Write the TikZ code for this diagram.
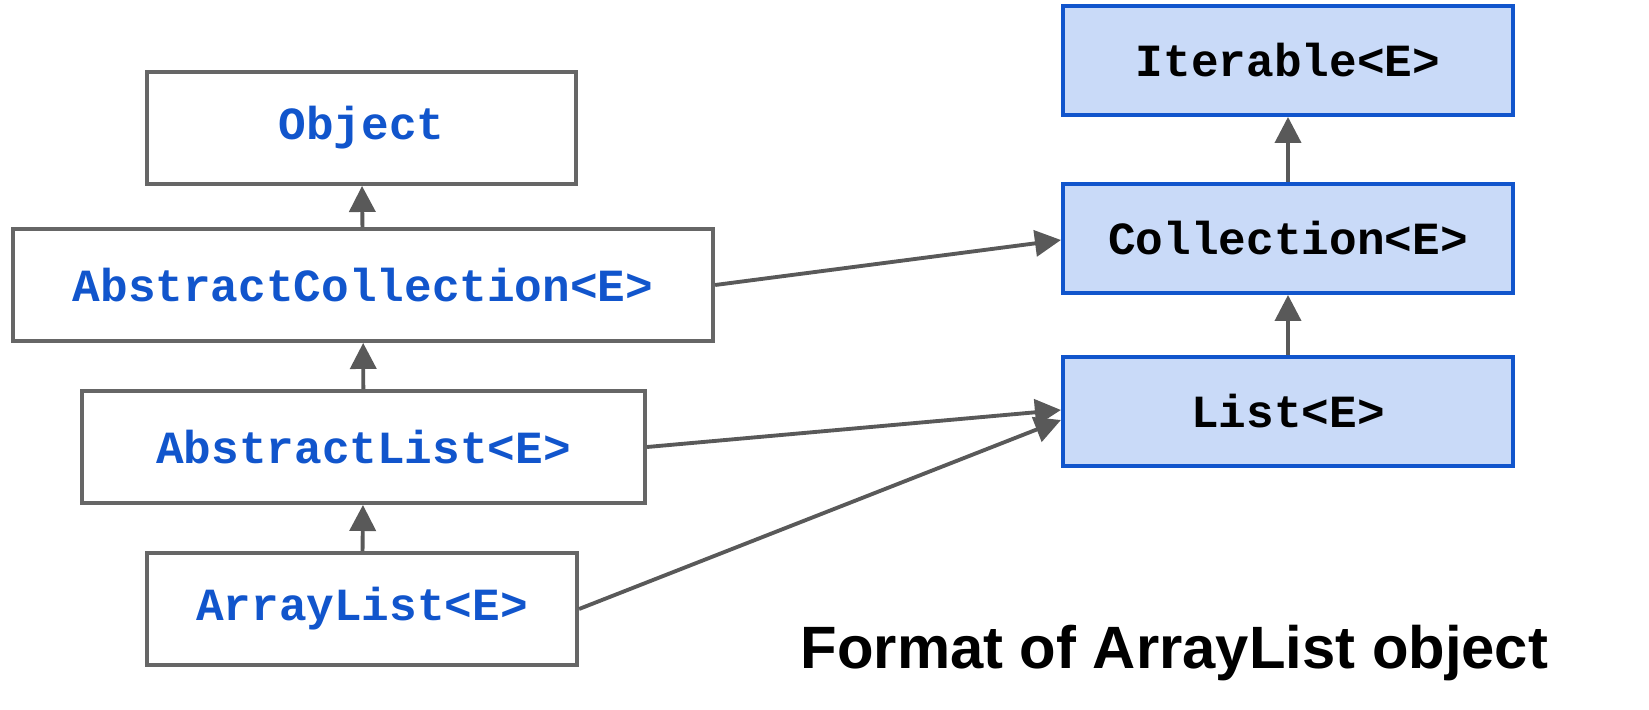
\documentclass[tikz,border=0pt]{standalone}
\usepackage{fontspec}
\setmainfont{Liberation Sans}
\setmonofont{Liberation Mono}
\usetikzlibrary{positioning, arrows.meta}

\definecolor{boxgray}{HTML}{666666}
\definecolor{arrowgray}{HTML}{595959}
\definecolor{javablue}{HTML}{1155CC}
\definecolor{ifacefill}{HTML}{C9DAF8}

\begin{document}
\begin{tikzpicture}[x=0.01cm,y=-0.01cm,
        cls/.style={rectangle,draw=boxgray,line width=1.1pt,fill=white,text=javablue,
                    font=\fontsize{13.1pt}{16pt}\selectfont\ttfamily\bfseries,inner sep=0pt,
                    minimum height=1.12cm},
        iface/.style={rectangle,draw=javablue,line width=1.1pt,fill=ifacefill,text=black,
                    font=\fontsize{13.1pt}{16pt}\selectfont\ttfamily\bfseries,inner sep=0pt,
                    minimum width=4.5cm,minimum height=1.09cm},
        inherit/.style={color=arrowgray,line width=1.1pt,-{Triangle[length=0.26cm,width=0.26cm]}}]

        \useasboundingbox (0,0) rectangle (1649,710);

        % classes
        \node[cls,minimum width=4.29cm] (obj)   at (361.5,128) {Object};
        \node[cls,minimum width=7.00cm] (abcol) at (363,285)   {AbstractCollection<E>};
        \node[cls,minimum width=5.63cm] (ablst) at (363.5,447) {AbstractList<E>};
        \node[cls,minimum width=4.30cm] (arlst) at (362,609)   {ArrayList<E>};

        % interfaces
        \node[iface] (iter) at (1288,60.5)  {Iterable<E>};
        \node[iface] (coll) at (1288,238.5) {Collection<E>};
        \node[iface] (list) at (1288,411.5) {List<E>};

        \node[anchor=base west,inner sep=0pt,font=\fontsize{17pt}{20pt}\selectfont\bfseries] (title)
              at (800,668) {Format of ArrayList object};

        \path[inherit]
                  (abcol) edge (obj)
                  (ablst) edge (abcol)
                  (arlst) edge (ablst)
                  (coll)  edge (iter)
                  (list)  edge (coll)
                  (abcol.east) edge ([yshift=-0.015cm]coll.west)
                  (ablst.east) edge ([yshift=0.015cm]list.west)
                  (arlst.east) edge ([yshift=-0.085cm]list.west);
\end{tikzpicture}
\end{document}
